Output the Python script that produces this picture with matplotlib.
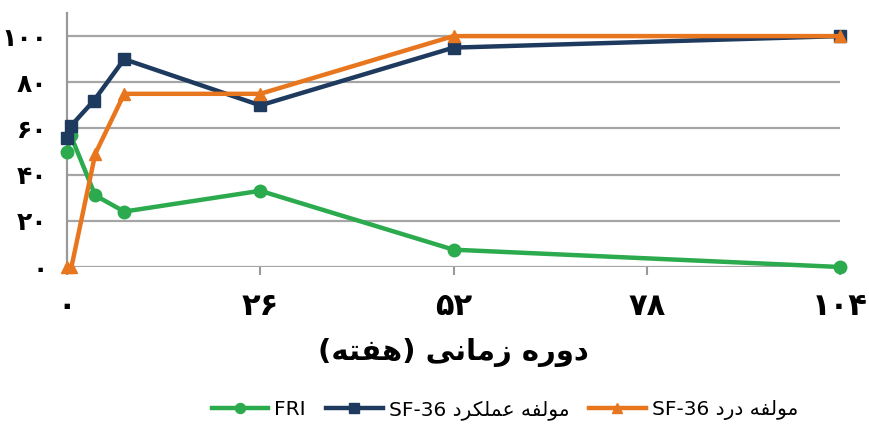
import re
import matplotlib
matplotlib.use('Agg')
import matplotlib.pyplot as plt

# data (weeks, score)
weeks_fri = [0, 0.5, 3.8, 7.7, 26, 52, 104]
fri = [50, 57, 31, 24, 33, 7.5, 0]
weeks_func = [0, 0.5, 3.6, 7.7, 26, 52, 104]
func = [56, 61, 72, 90, 70, 95, 100]
weeks_pain = [0, 0.6, 3.8, 7.7, 26, 52, 104]
pain = [0, 0, 49, 75, 75, 100, 100]

series_names = ['FRI', 'مولفه عملکرد SF-36', 'مولفه درد SF-36']
series_colors = ['#2BAA4E', '#1E3A5F', '#E8761E']
series_markers = ['o', 's', '^']

x_ticks = [0, 26, 52, 78, 104]
x_tick_labels = ['۰', '۲۶', '۵۲', '۷۸', '۱۰۴']
y_ticks = [0, 20, 40, 60, 80, 100]
y_tick_labels = ['۰', '۲۰', '۴۰', '۶۰', '۸۰', '۱۰۰']
x_title = 'دوره زمانی (هفته)'

# matplotlib has no arabic shaping, so do it by hand:
# letter -> (isolated, final, initial, medial)
FORMS = {
    'ا': ('\uFE8D', '\uFE8E', None, None),
    'د': ('\uFEA9', '\uFEAA', None, None),
    'ر': ('\uFEAD', '\uFEAE', None, None),
    'ز': ('\uFEAF', '\uFEB0', None, None),
    'و': ('\uFEED', '\uFEEE', None, None),
    'ه': ('\uFEE9', '\uFEEA', '\uFEEB', '\uFEEC'),
    'م': ('\uFEE1', '\uFEE2', '\uFEE3', '\uFEE4'),
    'ن': ('\uFEE5', '\uFEE6', '\uFEE7', '\uFEE8'),
    'ی': ('\uFBFC', '\uFBFD', '\uFBFE', '\uFBFF'),
    'ف': ('\uFED1', '\uFED2', '\uFED3', '\uFED4'),
    'ت': ('\uFE95', '\uFE96', '\uFE97', '\uFE98'),
    'ل': ('\uFEDD', '\uFEDE', '\uFEDF', '\uFEE0'),
    'ع': ('\uFEC9', '\uFECA', '\uFECB', '\uFECC'),
    'ک': ('\uFB8E', '\uFB8F', '\uFB90', '\uFB91'),
}
MIRROR = {'(': ')', ')': '('}


def shape(word):
    out = []
    for i, ch in enumerate(word):
        if ch not in FORMS:
            out.append(MIRROR.get(ch, ch))
            continue
        prev = word[i - 1] if i > 0 else ''
        nxt = word[i + 1] if i + 1 < len(word) else ''
        j_prev = prev in FORMS and FORMS[prev][2] is not None
        j_next = FORMS[ch][2] is not None and nxt in FORMS
        iso, fin, ini, med = FORMS[ch]
        if j_prev and j_next:
            out.append(med)
        elif j_prev:
            out.append(fin)
        elif j_next:
            out.append(ini)
        else:
            out.append(iso)
    return ''.join(out)


def rtl(text):
    if not any(c in FORMS for c in text):
        return text
    runs = re.findall(r'[A-Za-z0-9\-]+|[^A-Za-z0-9\-]+', text)
    vis = []
    for r in reversed(runs):
        if re.match(r'[A-Za-z0-9\-]', r):
            vis.append(r)
        else:
            vis.append(shape(r)[::-1])
    return ''.join(vis)


plt.rcParams['font.family'] = ['DejaVu Sans']

fig = plt.figure(figsize=(8.69, 4.30), dpi=100)
ax = fig.add_axes([67 / 869, 1 - 267 / 430, 773 / 869, 254 / 430])

data = [(weeks_fri, fri), (weeks_func, func), (weeks_pain, pain)]
for (xs, ys), name, col, mk in zip(data, series_names, series_colors, series_markers):
    ax.plot(xs, ys, color=col, lw=3.2, marker=mk, markersize=9,
            label=rtl(name), clip_on=False, zorder=3)

ax.set_xlim(0, 104)
ax.set_ylim(0, 110)
ax.set_xticks(x_ticks)
ax.set_xticklabels(x_tick_labels, fontsize=22, fontweight='bold')
ax.set_yticks(y_ticks)
ax.set_yticklabels(y_tick_labels, fontsize=18, fontweight='bold')
ax.tick_params(axis='x', length=6, width=1.5, color='#999999', pad=12)
ax.tick_params(axis='y', length=0, pad=14)
ax.grid(axis='y', color='#A5A5A5', lw=1.6)
ax.set_axisbelow(True)
for s in ['top', 'right', 'bottom']:
    ax.spines[s].set_visible(False)
ax.spines['left'].set_color('#999999')
ax.spines['left'].set_linewidth(1.6)

ax.set_xlabel(rtl(x_title), fontsize=21, fontweight='bold', labelpad=12)

fig.legend(loc='center', bbox_to_anchor=(505 / 869, 1 - 410 / 430), ncol=3,
           frameon=False, fontsize=14.5, handlelength=2.8, handletextpad=0.3,
           columnspacing=1.0, markerscale=0.8)

fig.savefig('out.png', dpi=100)
